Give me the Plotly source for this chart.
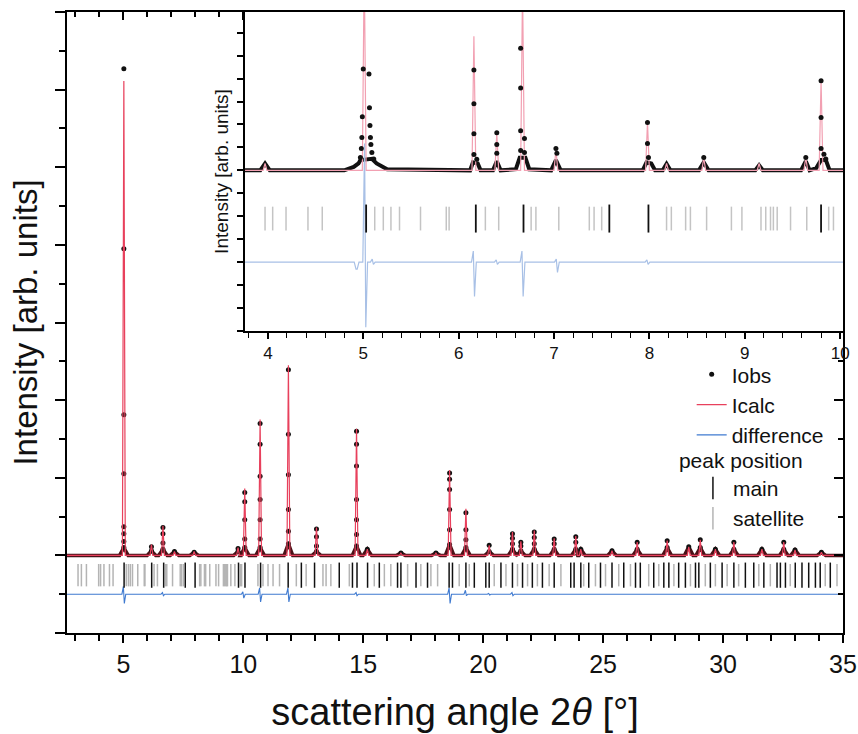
import plotly.graph_objects as go

# ---------------- data ----------------
# main pattern: reflections (2theta, deg) with the observed dot heights stacked on each
main_peak_pos = [5.02, 6.17, 6.65, 7.13, 7.95, 9.78, 10.06, 10.70, 11.88, 13.05, 14.72, 15.17,
                 16.57, 18.03, 18.60, 19.28, 20.25, 21.22, 21.57, 22.13, 22.96, 23.86, 24.07,
                 25.37, 26.42, 27.67, 28.57, 29.05, 29.68, 30.45, 31.62, 32.53, 33.00, 34.10]
main_peak_obs = [[6.27, 3.95, 1.81, 1.05, 0.37, 0.28, 0.18, 0.10], [0.11, 0.06],
                 [0.36, 0.28, 0.16, 0.08], [0.05], [0.04], [0.09, 0.05],
                 [0.81, 0.69, 0.46, 0.21, 0.10], [1.70, 1.43, 1.02, 0.72, 0.46, 0.21, 0.10],
                 [2.39, 1.56, 1.04, 0.59, 0.31, 0.15], [0.34, 0.24, 0.12, 0.05],
                 [1.60, 1.43, 1.15, 0.72, 0.46, 0.27, 0.12], [0.08], [0.03], [0.03],
                 [1.06, 0.98, 0.85, 0.59, 0.33, 0.14], [0.55, 0.33, 0.20, 0.10], [0.13, 0.05],
                 [0.28, 0.22, 0.15, 0.08], [0.17, 0.12, 0.06], [0.30, 0.23, 0.15, 0.08],
                 [0.21, 0.15, 0.08], [0.24, 0.17, 0.08], [0.08], [0.06], [0.17, 0.08],
                 [0.19, 0.10], [0.11], [0.20, 0.10], [0.08], [0.17, 0.08], [0.08],
                 [0.17, 0.08], [0.07], [0.04]]
main_peak_calc = [6.11, 0.14, 0.38, 0.05, 0.05, 0.10, 0.86, 1.75, 2.45, 0.36, 1.63, 0.08,
                  0.03, 0.03, 1.10, 0.60, 0.13, 0.30, 0.18, 0.32, 0.22, 0.25, 0.08,
                  0.06, 0.17, 0.19, 0.11, 0.20, 0.08, 0.17, 0.08, 0.17, 0.07, 0.04]
diff_pos = [5.02, 6.65, 10.00, 10.70, 11.88, 14.72, 18.60, 19.28, 20.25, 21.22]
diff_up = [0.10, 0.02, 0.03, 0.08, 0.08, 0.02, 0.08, 0.05, 0.01, 0.02]
diff_down = [-0.12, -0.02, -0.05, -0.10, -0.10, -0.02, -0.12, -0.02, -0.01, -0.02]

# reflection positions (2theta) : main phase and satellites
main_refl = [5.03, 6.18, 6.68, 7.58, 7.99, 9.80, 10.07, 10.72, 11.87, 12.42, 12.97, 14.00,
             14.55, 14.74, 15.18, 15.67, 16.43, 16.57, 17.20, 17.68, 18.58, 18.72, 19.28,
             19.63, 20.11, 20.25, 20.74, 21.22, 21.64, 22.05, 22.47, 22.96, 23.65, 23.79,
             24.07, 24.40, 24.89, 25.37, 25.86, 26.35, 26.55, 27.11, 27.53, 27.74, 28.15,
             28.43, 28.85, 28.99, 29.47, 29.96, 30.45, 30.93, 31.28, 31.70, 32.25, 32.39,
             32.60, 33.01, 33.29, 33.57, 33.85, 34.05, 34.47]
sat_refl = [3.11, 3.25, 3.46, 3.97, 4.05, 4.19, 4.42, 4.57, 5.12, 5.21, 5.29, 5.38, 5.60,
            5.87, 5.90, 6.28, 6.42, 6.76, 6.81, 7.05, 7.37, 7.42, 7.50, 8.18, 8.23, 8.38,
            8.43, 8.60, 8.86, 8.97, 9.17, 9.22, 9.27, 9.30, 9.34, 9.48, 9.65, 9.88, 9.93,
            10.61, 10.82, 11.03, 11.24, 11.51, 12.21, 12.62, 13.32, 13.45, 13.65, 14.42,
            15.46, 15.88, 16.15, 16.85, 17.40, 17.82, 18.10, 19.00, 19.42, 20.46, 20.95,
            21.43, 21.85, 22.26, 22.75, 23.24, 24.19, 24.68, 25.10, 25.65, 26.14, 26.90,
            27.32, 27.95, 28.64, 29.26, 29.68, 30.17, 30.65, 31.49, 31.97, 32.80, 34.26,
            34.75]

# inset (zoom 3.8-10 deg, own intensity scale)
inset_obs_x = [4.97, 4.98, 4.985, 4.99, 5.00, 5.06, 5.065, 5.07, 5.075, 5.08, 5.09, 5.11,
               6.16, 6.16, 6.16, 6.16, 6.19, 6.40, 6.40, 6.40, 6.65, 6.65, 6.65, 6.65,
               6.69, 6.69, 7.02, 7.03, 7.98, 7.98, 7.99, 8.57, 9.64, 9.80, 9.80, 9.80,
               9.83, 9.85]
inset_obs_y = [0.56, 0.95, 1.43, 2.34, 4.42, 4.20, 2.73, 1.95, 1.43, 1.13, 0.78, 0.50,
               4.37, 2.90, 1.60, 0.69, 0.48, 1.64, 1.13, 0.74, 5.32, 3.59, 1.73, 0.87,
               1.39, 0.78, 0.95, 0.74, 2.08, 1.17, 0.56, 0.56, 0.56, 3.90, 2.30, 0.95,
               0.70, 0.50]
inset_bg_x = [3.76, 3.92, 3.97, 4.02, 4.80, 4.90, 4.95, 4.97, 5.09, 5.14, 5.25, 6.12, 6.15,
              6.20, 6.23, 6.36, 6.40, 6.44, 6.60, 6.64, 6.70, 6.74, 6.97, 7.02, 7.07, 7.93,
              7.97, 8.02, 8.06, 8.14, 8.18, 8.22, 8.52, 8.57, 8.62, 9.11, 9.15, 9.19, 9.59,
              9.64, 9.68, 9.75, 9.80, 9.85, 9.89, 10.03]
inset_bg_y = [0.00, 0.00, 0.30, 0.00, 0.00, 0.15, 0.30, 0.45, 0.50, 0.30, 0.05, 0.00, 0.35,
              0.30, 0.00, 0.00, 0.40, 0.00, 0.05, 0.55, 0.55, 0.05, 0.00, 0.45, 0.00, 0.00,
              0.35, 0.30, 0.00, 0.00, 0.28, 0.00, 0.00, 0.35, 0.00, 0.00, 0.22, 0.00, 0.00,
              0.40, 0.00, 0.10, 0.45, 0.45, 0.00, 0.00]
inset_calc_pos = [3.97, 5.01, 6.16, 6.40, 6.67, 7.02, 7.98, 8.18, 8.57, 9.15, 9.64, 9.80]
inset_calc_top = [0.30, 9.00, 5.84, 1.60, 8.00, 0.90, 2.10, 0.30, 0.55, 0.30, 0.55, 3.90]
inset_diff_pos = [4.93, 5.02, 5.10, 6.16, 6.40, 6.67, 7.03, 7.98]
inset_diff_up = [-0.30, 5.17, 0.13, 0.48, 0.10, 0.48, 0.13, 0.10]
inset_diff_down = [-0.30, -2.84, -0.10, -1.50, -0.10, -1.50, -0.45, -0.10]

MAIN_X = [2.65, 35.0]
INSET_X = [3.76, 10.03]
DIFF0 = -0.5
INSET_DIFF0 = -4.0

# ---------------- build profiles from the peak tables ----------------
def profile(pos, top, base, xr, half):
    xs, ys = [xr[0]], [base]
    for p, t in sorted(zip(pos, top)):
        if p < xr[0] or p > xr[1]:
            continue
        xs += [p - half, p, p + half]
        ys += [base, t, base]
    xs.append(xr[1]); ys.append(base)
    return xs, ys

def diff_profile(pos, up, down, base, xr, half):
    xs, ys = [xr[0]], [base]
    for p, u, d in zip(pos, up, down):
        xs += [p - half, p - half / 4, p + half / 4, p + half]
        ys += [base, base + u, base + d, base]
    xs.append(xr[1]); ys.append(base)
    return xs, ys

obs_x, obs_y = [], []
for p, dots in zip(main_peak_pos, main_peak_obs):
    for d in dots:
        obs_x.append(p); obs_y.append(d)
bg_x, bg_y = profile(main_peak_pos, [min(d) for d in main_peak_obs], 0, MAIN_X, 0.18)
calc_x, calc_y = profile(main_peak_pos, main_peak_calc, 0, MAIN_X, 0.06)
dif_x, dif_y = diff_profile(diff_pos, diff_up, diff_down, DIFF0, MAIN_X, 0.08)
icalc_x, icalc_y = profile(inset_calc_pos, inset_calc_top, 0, INSET_X, 0.02)
idif_x, idif_y = diff_profile(inset_diff_pos, inset_diff_up, inset_diff_down, INSET_DIFF0, INSET_X, 0.025)

RED = "#e8405c"
BLUE = "#3f7ad0"

fig = go.Figure()
# ---- main plot ----
fig.add_trace(go.Scatter(x=bg_x, y=bg_y, mode="lines", line=dict(color="#4a1218", width=3.5),
                         showlegend=False, hoverinfo="skip"))
fig.add_trace(go.Scatter(x=obs_x, y=obs_y, mode="markers", name="Iobs",
                         marker=dict(color="#111111", size=5), legend="legend"))
fig.add_trace(go.Scatter(x=calc_x, y=calc_y, mode="lines", name="Icalc",
                         line=dict(color=RED, width=1.2), legend="legend"))
fig.add_trace(go.Scatter(x=dif_x, y=dif_y, mode="lines", name="difference",
                         line=dict(color=BLUE, width=1.1), legend="legend"))
fig.add_trace(go.Scatter(x=sat_refl, y=[-0.255] * len(sat_refl), mode="markers", name="satellite",
                         marker=dict(symbol="line-ns-open", size=16, color="#b4b4b4",
                                     line=dict(color="#b4b4b4", width=1.5)),
                         legend="legend2", legendrank=2))
fig.add_trace(go.Scatter(x=main_refl, y=[-0.255] * len(main_refl), mode="markers", name="main",
                         marker=dict(symbol="line-ns-open", size=18, color="#111111",
                                     line=dict(color="#111111", width=1.5)),
                         legend="legend2", legendrank=1))
# ---- inset ----
fig.add_trace(go.Scatter(x=inset_bg_x, y=inset_bg_y, mode="lines", xaxis="x2", yaxis="y2",
                         line=dict(color="#111111", width=4), showlegend=False))
fig.add_trace(go.Scatter(x=icalc_x, y=icalc_y, mode="lines", xaxis="x2", yaxis="y2",
                         line=dict(color="#f2a0b2", width=1.2), showlegend=False))
fig.add_trace(go.Scatter(x=inset_obs_x, y=inset_obs_y, mode="markers", xaxis="x2", yaxis="y2",
                         marker=dict(color="#111111", size=5), showlegend=False))
fig.add_trace(go.Scatter(x=idif_x, y=idif_y, mode="lines", xaxis="x2", yaxis="y2",
                         line=dict(color="#a8c0e6", width=1.2), showlegend=False))
isat = [v for v in sat_refl if INSET_X[0] <= v <= INSET_X[1]]
imain = [v for v in main_refl if INSET_X[0] <= v <= INSET_X[1]]
fig.add_trace(go.Scatter(x=isat, y=[-2.1] * len(isat), mode="markers", xaxis="x2", yaxis="y2",
                         marker=dict(symbol="line-ns-open", size=17, color="#c4c4c4",
                                     line=dict(color="#c4c4c4", width=1.5)), showlegend=False))
fig.add_trace(go.Scatter(x=imain, y=[-2.1] * len(imain), mode="markers", xaxis="x2", yaxis="y2",
                         marker=dict(symbol="line-ns-open", size=20, color="#111111",
                                     line=dict(color="#111111", width=1.8)), showlegend=False))
# dummy for mirror (inside) axes
fig.add_trace(go.Scatter(x=[], y=[], xaxis="x3", yaxis="y3", showlegend=False))

FONT = "Liberation Sans, Arial, sans-serif"
axis_common = dict(showgrid=False, zeroline=False, showline=True, linecolor="#000",
                   linewidth=1.6, tickcolor="#000", tickwidth=1.5, automargin=False)

fig.update_layout(
    width=858, height=734,
    margin=dict(l=67, r=15, t=12, b=101, autoexpand=False),
    paper_bgcolor="white", plot_bgcolor="white",
    font=dict(family=FONT, color="#111"),
    xaxis=dict(axis_common, domain=[0, 1], range=MAIN_X, anchor="y",
               ticks="outside", ticklen=8, dtick=5, tick0=0,
               minor=dict(dtick=1, ticklen=6, tickwidth=1.5, tickcolor="#000", ticks="outside"),
               tickfont=dict(size=25),
               title=dict(text="scattering angle 2<i>θ</i> [°]", font=dict(size=38), standoff=22)),
    yaxis=dict(axis_common, domain=[0, 1], range=[-1, 7], anchor="x",
               ticks="outside", ticklen=10, dtick=1, tick0=0, showticklabels=False,
               minor=dict(dtick=0.5, ticklen=6, tickwidth=1.5, tickcolor="#000", ticks="outside"),
               title=dict(text="Intensity [arb. units]", font=dict(size=33), standoff=8)),
    xaxis3=dict(axis_common, overlaying="x", side="top", anchor="y3", range=MAIN_X,
                ticks="inside", ticklen=8, dtick=5, tick0=0, showticklabels=False,
                minor=dict(dtick=1, ticklen=5, tickwidth=1.5, tickcolor="#000", ticks="inside")),
    yaxis3=dict(axis_common, overlaying="y", side="right", anchor="x3", range=[-1, 7],
                ticks="inside", ticklen=9, dtick=1, tick0=0, showticklabels=False,
                minor=dict(dtick=0.5, ticklen=5, tickwidth=1.5, tickcolor="#000", ticks="inside")),
    xaxis2=dict(axis_common, domain=[0.2294, 1], range=INSET_X, anchor="y2",
                ticks="outside", ticklen=6, dtick=1, tick0=0,
                minor=dict(dtick=0.2, ticklen=5, tickwidth=1.2, tickcolor="#000", ticks="outside"),
                tickfont=dict(size=17)),
    yaxis2=dict(axis_common, domain=[0.4863, 1], range=[-7, 6.9], anchor="x2",
                ticks="outside", ticklen=6, dtick=1, tick0=0, showticklabels=False,
                title=dict(text="Intensity [arb. units]", font=dict(size=19), standoff=4)),
    legend=dict(x=0.805, y=0.449, xanchor="left", yanchor="top", bgcolor="rgba(0,0,0,0)",
                font=dict(size=21), tracegroupgap=0, itemwidth=30),
    legend2=dict(x=0.786, y=0.31, xanchor="left", yanchor="top", bgcolor="rgba(0,0,0,0)",
                 font=dict(size=21), title=dict(text="peak position", font=dict(size=21)),
                 indentation=16, tracegroupgap=0, itemwidth=30),
)

fig.write_html("out.html")
